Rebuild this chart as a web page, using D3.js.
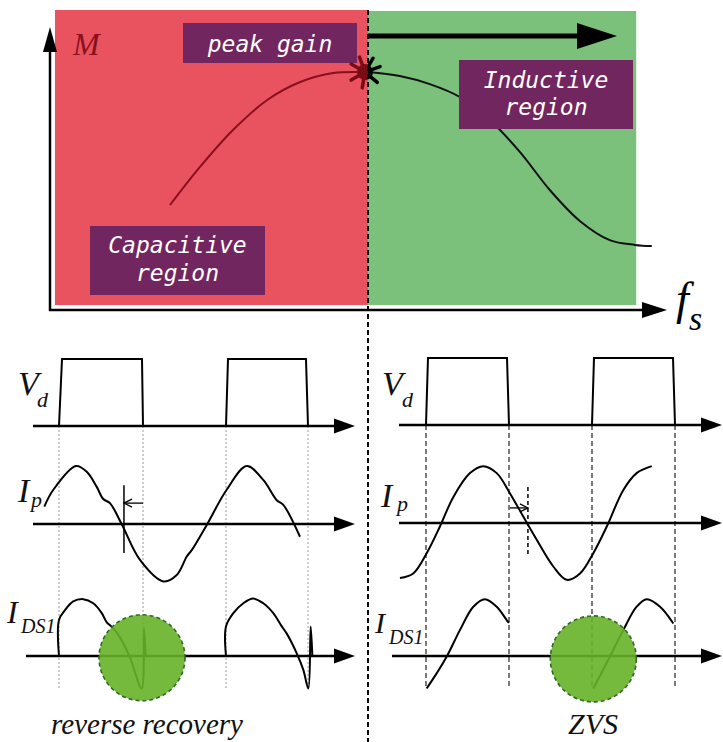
<!DOCTYPE html>
<html><head><meta charset="utf-8">
<script src="https://cdn.jsdelivr.net/npm/d3@7"></script>
<style>html,body{margin:0;padding:0;background:#fff;}svg{display:block}</style>
</head><body>
<svg id="chart" width="723" height="742"></svg>
<script>
// ===================== DATA =====================
// Top: voltage gain M vs switching frequency fs (normalised 0..100 units)
const gainCapX = [20, 25, 30.5, 36.2, 41.7, 47.2, 52.5];
const gainCapM = [35, 47.7, 60, 70, 76, 79, 79.3];
const gainIndX = [53, 58.3, 63.3, 68.3, 73.3, 78.3, 83.3, 88.3, 93.3, 97.5, 100.3];
const gainIndM = [79.3, 78, 75.3, 71, 63.3, 52.7, 40, 29.7, 23.3, 21.7, 21.3];
const peakPoint = [52.5, 79.3];
const boundaryX = 53;
const labelTexts = { peak: "peak gain", cap: ["Capacitive", "region"], ind: ["Inductive", "region"] };
const axisLabels = { y: "M", x: "f", xSub: "s" };

// Bottom: waveforms, time in switching periods, amplitude in normalised units
const rowNames = ["V", "I", "I"];
const rowSubs = ["d", "p", "DS1"];
const captions = ["reverse recovery", "ZVS"];

// Left (capacitive)
const vdLeftT = [0, 0.018, 0.497, 0.503, 1.0, 1.012, 1.479, 1.491];
const vdLeftV = [0, 1, 1, 0, 0, 1, 1, 0];
const ipLeftT = [-0.088, -0.034, 0.102, 0.166, 0.226, 0.265, 0.305, 0.375, 0.485, 0.625, 0.705, 0.765, 0.795, 0.884, 1.004, 1.124, 1.223, 1.304, 1.343, 1.443];
const ipLeftV = [0.30, 0.59, 1.0, 0.90, 0.64, 0.43, 0.36, 0.0, -0.62, -0.99, -0.88, -0.56, -0.45, -0.02, 0.59, 1.0, 0.76, 0.41, 0.33, -0.22];
const idsLeftT1 = [0, 0, 0.036, 0.085, 0.145, 0.205, 0.256, 0.284, 0.324, 0.363, 0.423, 0.495, 0.509, 0.519];
const idsLeftV1 = [0, 0.62, 0.79, 0.94, 0.98, 0.91, 0.74, 0.59, 0.48, 0.33, -0.01, -0.56, 0.48, 0.0];
const idsLeftT2 = [1.0, 1.0, 1.044, 1.104, 1.163, 1.223, 1.283, 1.334, 1.363, 1.423, 1.463, 1.493, 1.507, 1.517];
const idsLeftV2 = [0, 0.51, 0.74, 0.91, 0.99, 0.91, 0.74, 0.51, 0.39, 0.05, -0.24, -0.56, 0.51, 0];
const guidesLeft = [0, 0.503, 1.0, 1.491];

// Right (inductive)
const vdRightT = [0, 0.012, 0.488, 0.5, 1.0, 1.012, 1.488, 1.5];
const vdRightV = [0, 1, 1, 0, 0, 1, 1, 0];
const ipRightT = [-0.157, -0.077, 0.004, 0.084, 0.165, 0.265, 0.345, 0.426, 0.506, 0.586, 0.667, 0.767, 0.848, 0.928, 1.008, 1.089, 1.189, 1.269, 1.36];
const ipRightV = [-0.95, -0.87, -0.52, -0.06, 0.45, 0.86, 0.98, 0.86, 0.51, 0.11, -0.29, -0.75, -0.98, -0.87, -0.52, -0.06, 0.57, 0.86, 0.98];
const idsRightT1 = [0.004, 0.064, 0.125, 0.205, 0.285, 0.355, 0.426, 0.486, 0.5];
const idsRightV1 = [-0.56, -0.30, -0.01, 0.45, 0.85, 0.98, 0.85, 0.62, 0.57];
const idsRightT2 = [1.008, 1.108, 1.189, 1.269, 1.33, 1.41, 1.49];
const idsRightV2 = [-0.56, -0.01, 0.45, 0.85, 0.98, 0.85, 0.56];
const guidesRight = [0, 0.5, 1.0, 1.5];

// delay markers on Ip: [marker t, arrow start t, arrow v, line top v, line bottom v]
const markerLeft = [0.389, 0.503, 0.36, 0.67, -0.5];
const markerRight = [0.614, 0.506, 0.26, 0.62, -0.55];
// highlighted switching events (t, v)
const eventLeft = [0.497, -0.03];
const eventRight = [1.008, -0.05];

// ===================== DRAW =====================
const svg = d3.select("#chart");
const RED = "#e9535f", GREEN = "#7cc17b", PURPLE = "#722660", CGREEN = "#66b128";
const SERIF = "'Liberation Serif','DejaVu Serif',serif";
const MONO = "'DejaVu Sans Mono',monospace";

// ---------- Top panel ----------
const xTop = d3.scaleLinear().domain([0, 100]).range([50, 650]);
const yTop = d3.scaleLinear().domain([0, 100]).range([310, 10]);

svg.append("rect").attr("x", xTop(0.83)).attr("y", yTop(100)).attr("width", xTop(boundaryX) - xTop(0.83))
  .attr("height", yTop(1.67) - yTop(100)).attr("fill", RED);
svg.append("rect").attr("x", xTop(boundaryX)).attr("y", yTop(99.67)).attr("width", xTop(97.7) - xTop(boundaryX))
  .attr("height", yTop(1.67) - yTop(99.67)).attr("fill", GREEN);

const gLine = d3.line().x(d => xTop(d[0])).y(d => yTop(d[1])).curve(d3.curveCatmullRom.alpha(0.5));
svg.append("path").attr("d", gLine(d3.zip(gainCapX, gainCapM))).attr("fill", "none")
  .attr("stroke", "#8a0f1e").attr("stroke-width", 2);
svg.append("path").attr("d", gLine(d3.zip(gainIndX, gainIndM))).attr("fill", "none")
  .attr("stroke", "#111").attr("stroke-width", 2);

// label boxes
function box(x0, y0, x1, y1, lines, baseY, lh) {
  svg.append("rect").attr("x", x0).attr("y", y0).attr("width", x1 - x0).attr("height", y1 - y0).attr("fill", PURPLE);
  lines.forEach((t, i) => {
    svg.append("text").attr("x", (x0 + x1) / 2).attr("y", baseY + i * lh).attr("text-anchor", "middle")
      .attr("font-family", MONO).attr("font-style", "italic").attr("font-size", 23).attr("fill", "#fff").text(t);
  });
}
box(183, 23, 357, 63, [labelTexts.peak], 52, 0);
box(90, 226, 265, 295, labelTexts.cap, 253, 28);
box(459, 60, 633, 129, labelTexts.ind, 88, 27);

// peak marker (asterisk-like), left half dark red, right half black
const defs = svg.append("defs");
const px = xTop(peakPoint[0]) , py = yTop(peakPoint[1]);
defs.append("clipPath").attr("id", "cl").append("rect").attr("x", 0).attr("y", 0).attr("width", xTop(boundaryX)).attr("height", 742);
defs.append("clipPath").attr("id", "cr").append("rect").attr("x", xTop(boundaryX)).attr("y", 0).attr("width", 723).attr("height", 742);
function star(clip, col) {
  const g = svg.append("g").attr("clip-path", `url(#${clip})`);
  const angles = [-60, -20, 40, 100, 150, 210, 250];
  angles.forEach(a => {
    const r = a * Math.PI / 180;
    g.append("line").attr("x1", px).attr("y1", py).attr("x2", px + 16 * Math.cos(r)).attr("y2", py + 16 * Math.sin(r))
      .attr("stroke", col).attr("stroke-width", 3.5).attr("stroke-linecap", "round");
  });
  g.append("circle").attr("cx", px).attr("cy", py).attr("r", 8).attr("fill", col);
}
star("cl", "#7a0c18");
star("cr", "#000");

// top arrow (direction of increasing fs)
svg.append("line").attr("x1", xTop(boundaryX)).attr("x2", 580).attr("y1", 36).attr("y2", 36)
  .attr("stroke", "#000").attr("stroke-width", 5);
svg.append("path").attr("d", "M577,23 L617,36 L577,49 Z").attr("fill", "#000");

// axes
svg.append("line").attr("x1", 50).attr("x2", 50).attr("y1", 311).attr("y2", 45).attr("stroke", "#000").attr("stroke-width", 2.5);
svg.append("path").attr("d", "M43,52 L50,27 L57,52 Z").attr("fill", "#000");
svg.append("line").attr("x1", 49).attr("x2", 646).attr("y1", 310).attr("y2", 310).attr("stroke", "#000").attr("stroke-width", 2.5);
svg.append("path").attr("d", "M642,302 L667,310 L642,318 Z").attr("fill", "#000");
svg.append("text").attr("x", 73).attr("y", 55).attr("font-family", SERIF).attr("font-style", "italic")
  .attr("font-size", 32).attr("fill", "#8a1020").text(axisLabels.y);
svg.append("text").attr("x", 676).attr("y", 314).attr("font-family", SERIF).attr("font-style", "italic")
  .attr("font-size", 46).attr("fill", "#000").text(axisLabels.x);
svg.append("text").attr("x", 689).attr("y", 330).attr("font-family", SERIF).attr("font-style", "italic")
  .attr("font-size", 34).attr("fill", "#000").text(axisLabels.xSub);

// ---------- Bottom panels ----------
const U = 58;
const panels = [
  { x: d3.scaleLinear().domain([0, 1]).range([59, 226]), base: [426, 524, 656], ax0: [33, 33, 26], tip: 355,
    vdT: vdLeftT, vdV: vdLeftV, ipT: ipLeftT, ipV: ipLeftV,
    ids: [[idsLeftT1, idsLeftV1], [idsLeftT2, idsLeftV2]], guides: guidesLeft, marker: markerLeft, markerDash: null,
    event: eventLeft, caption: captions[0], capX: 147, capY: 734, capSize: 29, guideCol: "#9a9a9a", guideDash: "2,2", guideW: 1,
    labels: [[18, 395, 34, 37, 407, 22], [18, 502, 34, 31, 507, 22], [7, 623, 32, 21, 633, 20]] },
  { x: d3.scaleLinear().domain([0, 1]).range([426, 592]), base: [425, 523, 656], ax0: [399, 399, 392], tip: 722,
    vdT: vdRightT, vdV: vdRightV, ipT: ipRightT, ipV: ipRightV,
    ids: [[idsRightT1, idsRightV1], [idsRightT2, idsRightV2]], guides: guidesRight, marker: markerRight, markerDash: "4,3",
    event: eventRight, caption: captions[1], capX: 593, capY: 734, capSize: 30, guideCol: "#333", guideDash: "5,3", guideW: 1.3,
    labels: [[382, 395, 34, 402, 407, 22], [381, 507, 34, 397, 511, 22], [375, 633, 30, 389, 644, 20]] }
];

const wave = d3.line().curve(d3.curveCatmullRom.alpha(0.5));

panels.forEach(p => {
  const yRow = b => d3.scaleLinear().domain([-1, 1]).range([b + U, b - U]);
  const yVd = d3.scaleLinear().domain([0, 1]).range([p.base[0], p.base[0] - 67]);
  const yIp = yRow(p.base[1]), yIds = yRow(p.base[2]);

  // guide lines
  p.guides.forEach(t => {
    svg.append("line").attr("x1", p.x(t)).attr("x2", p.x(t)).attr("y1", p.base[0]).attr("y2", yIds(-0.56))
      .attr("stroke", p.guideCol).attr("stroke-width", p.guideW).attr("stroke-dasharray", p.guideDash);
  });

  // axes with arrows
  p.base.forEach((b, i) => {
    svg.append("line").attr("x1", p.ax0[i]).attr("x2", p.tip - 16).attr("y1", b).attr("y2", b)
      .attr("stroke", "#000").attr("stroke-width", 2.5);
    svg.append("path").attr("d", `M${p.tip - 21},${b - 7.5} L${p.tip},${b} L${p.tip - 21},${b + 7.5} Z`).attr("fill", "#000");
  });

  // Vd pulses
  svg.append("path").attr("d", d3.line().x(d => p.x(d[0])).y(d => yVd(d[1]))(d3.zip(p.vdT, p.vdV)))
    .attr("fill", "none").attr("stroke", "#000").attr("stroke-width", 2);

  // Ip
  wave.x(d => p.x(d[0])).y(d => yIp(d[1]));
  svg.append("path").attr("d", wave(d3.zip(p.ipT, p.ipV))).attr("fill", "none").attr("stroke", "#000").attr("stroke-width", 2);

  // IDS1
  wave.x(d => p.x(d[0])).y(d => yIds(d[1]));
  p.ids.forEach(s => {
    svg.append("path").attr("d", wave(d3.zip(s[0], s[1]))).attr("fill", "none").attr("stroke", "#000").attr("stroke-width", 2);
  });

  // delay marker
  const m = p.marker;
  const ml = svg.append("line").attr("x1", p.x(m[0])).attr("x2", p.x(m[0])).attr("y1", yIp(m[3])).attr("y2", yIp(m[4]))
    .attr("stroke", "#000").attr("stroke-width", 1.5);
  if (p.markerDash) ml.attr("stroke-dasharray", p.markerDash);
  const dir = Math.sign(p.x(m[0]) - p.x(m[1]));
  svg.append("line").attr("x1", p.x(m[1])).attr("x2", p.x(m[0]) - dir * 2).attr("y1", yIp(m[2])).attr("y2", yIp(m[2]))
    .attr("stroke", "#000").attr("stroke-width", 1.3);
  const ax = p.x(m[0]), ay = yIp(m[2]);
  svg.append("path").attr("d", `M${ax - dir * 8},${ay - 4} L${ax},${ay} L${ax - dir * 8},${ay + 4}`)
    .attr("fill", "none").attr("stroke", "#000").attr("stroke-width", 1.3);

  // highlighted event circle
  svg.append("circle").attr("cx", p.x(p.event[0])).attr("cy", yIds(p.event[1])).attr("r", 43)
    .attr("fill", CGREEN).attr("fill-opacity", 0.9).attr("stroke", "#2f6a22").attr("stroke-width", 1.6)
    .attr("stroke-dasharray", "4,3");

  // row labels
  p.labels.forEach((L, i) => {
    svg.append("text").attr("x", L[0]).attr("y", L[1]).attr("font-family", SERIF).attr("font-style", "italic")
      .attr("font-size", L[2]).attr("fill", "#111").text(rowNames[i]);
    svg.append("text").attr("x", L[3]).attr("y", L[4]).attr("font-family", SERIF).attr("font-style", "italic")
      .attr("font-size", L[5]).attr("fill", "#111").text(rowSubs[i]);
  });

  // caption
  svg.append("text").attr("x", p.capX).attr("y", p.capY).attr("text-anchor", "middle").attr("font-family", SERIF)
    .attr("font-style", "italic").attr("font-size", p.capSize).attr("fill", "#111").text(p.caption);
});

// divider (resonant frequency) dashed line
svg.append("line").attr("x1", xTop(boundaryX)).attr("x2", xTop(boundaryX)).attr("y1", 10).attr("y2", 742)
  .attr("stroke", "#000").attr("stroke-width", 2).attr("stroke-dasharray", "5,3");
</script>
</body></html>
